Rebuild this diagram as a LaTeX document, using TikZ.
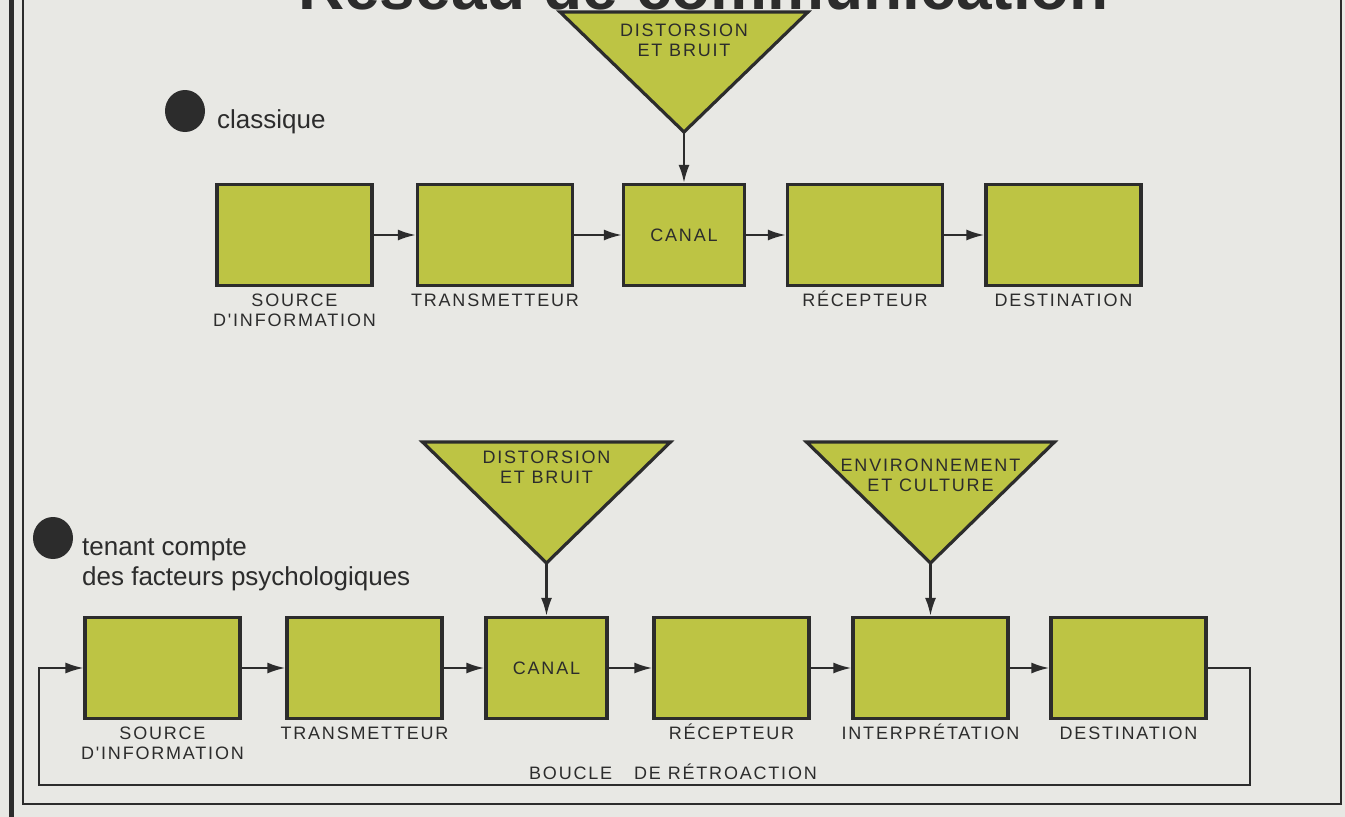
\documentclass[tikz,border=0pt]{standalone}
\usepackage{fontspec}
\setmainfont{Liberation Sans}
\newfontfamily\lblfont[LetterSpace=10]{Liberation Sans}
\usepackage{xcolor}
\usepackage{tikz}
\usetikzlibrary{positioning}
\usetikzlibrary{arrows.meta}
\usetikzlibrary{calc}
\definecolor{papier}{RGB}{232,232,228}
\definecolor{vert}{RGB}{189,196,68}
\definecolor{encre}{RGB}{44,44,44}
\tikzstyle{bloc}=[rectangle,draw=encre,line width=3.2pt,fill=vert,minimum width=155pt,minimum height=101pt,inner sep=0pt]
\tikzstyle{fleche} = [draw,encre,line width=2.3pt,-{Latex[length=18pt,width=11pt]}]
\tikzstyle{boucle} = [draw,encre,line width=1.8pt,-{Latex[length=18pt,width=11pt]}]
\tikzstyle{tri} = [draw=encre,line width=3.2pt,fill=vert]
\tikzstyle{puce}=[ellipse,fill=encre,minimum width=40pt,minimum height=42pt,inner sep=0pt]
\tikzset{lbl/.style={font=\lblfont\fontsize{18}{20}\selectfont,text=encre,align=center,inner sep=0pt}}
\tikzset{intro/.style={font=\fontsize{26}{30}\selectfont,text=encre,inner sep=0pt}}
\usetikzlibrary{shapes.geometric}

\begin{document}
\begin{tikzpicture}[x=1pt,y=-1pt]

 \useasboundingbox (0,0) rectangle (1345,817);
 \fill[papier] (0,0) rectangle (1345,817);
 \clip (0,0) rectangle (1345,817);

 \node[font=\bfseries\fontsize{64}{70}\selectfont, text=encre, anchor=base west, inner sep=0pt] (titre) at (298,9) {Réseau de communication};

 \draw[encre, line width=5pt] (11,0) -- (11,817);
 \draw[encre, line width=2pt] (23,0) -- (23,804) -- (1341,804) -- (1341,0);

 %classique
 \node[puce] (p1) at (185,111) {};
 \node[intro, anchor=base west] (classique) at (217,128) {classique};

  \def\dy{235};
  \foreach \x/\name in {294.5/src1, 495/tra1, 865/rec1, 1063.5/dst1}
          \node[bloc] (\name) at (\x,\dy) {};
  \node[bloc, minimum width=121pt, lbl] (can1) at (684,\dy) {CANAL};

  \foreach \name/\gap/\label in {src1/7/{SOURCE\\D'INFORMATION}, tra1/7/TRANSMETTEUR, rec1/3.6/RÉCEPTEUR, dst1/7/DESTINATION}
          \node[lbl, below=\gap pt of \name] (l\name) {\label};

  \foreach \source/ \dest in {src1/tra1, tra1/can1, can1/rec1, rec1/dst1}
         \path[fleche] (\source) -- (\dest);

  \def\cx{684};
  \def\ty{12};
  \draw[tri] (\cx-124,\ty) -- (\cx+124,\ty) -- (\cx,\ty+120) -- cycle;
  \coordinate (tip1) at (\cx,\ty+120);
  \node[lbl] (bruit1) at (\cx,\ty+28) {DISTORSION\\ET BRUIT};
  \path[fleche] (tip1) -- (can1);

 %psychologiques
 \node[puce] (p2) at (53,538) {};
 \node[intro, anchor=base west] (tenant) at (82,555) {tenant compte};
 \node[intro, anchor=base west] (facteurs) at (82,585) {des facteurs psychologiques};

  \def\dy{668};
  \foreach \x/\name in {162.5/src2, 364.5/tra2, 731.5/rec2, 930.5/int2, 1128.5/dst2}
          \node[bloc] (\name) at (\x,\dy) {};
  \node[bloc, minimum width=121pt, lbl] (can2) at (546.5,\dy) {CANAL};

  \foreach \name/\gap/\label in {src2/7/{SOURCE\\D'INFORMATION}, tra2/7/TRANSMETTEUR, rec2/3.6/RÉCEPTEUR, int2/3.6/INTERPRÉTATION, dst2/7/DESTINATION}
          \node[lbl, below=\gap pt of \name] (l\name) {\label};

  \foreach \source/ \dest in {src2/tra2, tra2/can2, can2/rec2, rec2/int2, int2/dst2}
         \path[fleche] (\source) -- (\dest);

  \def\cx{546.5};
  \def\ty{442};
  \draw[tri] (\cx-124,\ty) -- (\cx+124,\ty) -- (\cx,\ty+121) -- cycle;
  \coordinate (tip2) at (\cx,\ty+121);
  \node[lbl] (bruit2) at (\cx,\ty+25) {DISTORSION\\ET BRUIT};
  \path[fleche] (tip2) -- (can2);

  \def\cx{930.5};
  \draw[tri] (\cx-124,\ty) -- (\cx+124,\ty) -- (\cx,\ty+121) -- cycle;
  \coordinate (tip3) at (\cx,\ty+121);
  \node[lbl] (env) at (\cx,\ty+33) {ENVIRONNEMENT\\ET CULTURE};
  \path[fleche] (tip3) -- (int2);

  %boucle
  \coordinate (bd) at (1250,785);
  \coordinate (bg) at (39,785);
  \path[boucle] (dst2) -| (bd) -- (bg) |- (src2);
  \node[lbl] (retro) at (673,772) {BOUCLE\hspace{22pt}DE RÉTROACTION};

\end{tikzpicture}
\end{document}
